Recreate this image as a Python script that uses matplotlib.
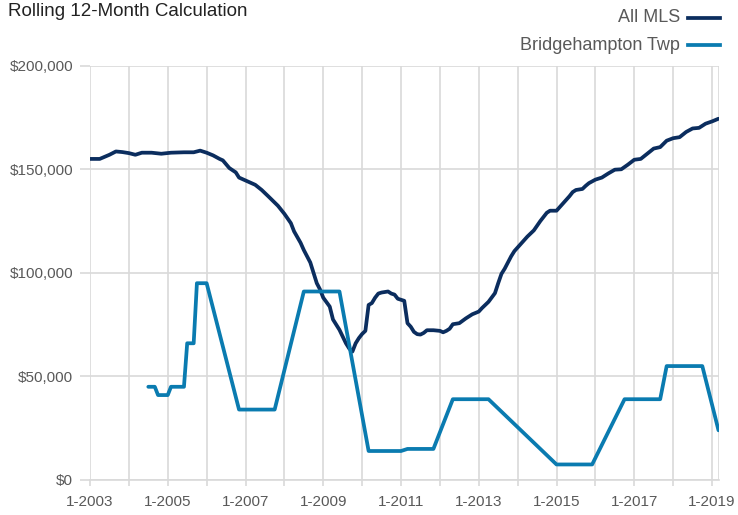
import matplotlib
matplotlib.use("Agg")
import matplotlib.pyplot as plt
from matplotlib.lines import Line2D
from matplotlib.ticker import FuncFormatter, MultipleLocator
from matplotlib import font_manager

# ---- data (month index from Jan 2003, value in $) ----
mls_month = [0, 3, 6, 8, 10, 12, 14, 16, 19, 22, 25, 29, 32, 34, 36, 38, 40, 41, 43, 45,
             46, 48, 51, 53, 55, 58, 60, 62, 63, 65, 66, 68, 69, 70, 71, 72, 74, 75, 77, 79,
             80, 81, 82, 83, 84, 85, 86, 87, 88, 89, 90, 92, 93, 94, 95, 97, 98, 99, 100, 101,
             102, 103, 104, 106, 108, 109, 110, 111, 112, 114, 116, 118, 120, 121, 123, 125, 126, 127, 128, 129,
             130, 131, 133, 135, 137, 139, 141, 142, 144, 146, 148, 149, 150, 152, 153, 154, 156, 158, 160, 162,
             164, 166, 168, 170, 172, 174, 176, 178, 180, 182, 184, 186, 188, 190, 192, 194]
mls_value = [155000, 155000, 157000, 158600, 158300, 157800, 157000, 158000, 158000, 157500,
             158000, 158200, 158200, 159000, 158000, 156700, 155000, 154300, 150600, 148500,
             146000, 144600, 142500, 140000, 137000, 132400, 128500, 124000, 120000, 114500,
             111000, 105000, 100000, 95000, 92000, 88000, 83700, 77500, 72500, 66000,
             63500, 62000, 66000, 68500, 70500, 72000, 84500, 85400, 88000, 90000,
             90500, 91000, 90000, 89500, 87500, 86500, 75700, 74000, 71500, 70400,
             70200, 71000, 72300, 72300, 72000, 71300, 72000, 73000, 75200, 75700,
             78000, 80000, 81300, 83000, 86000, 90200, 95000, 99500, 102000, 105000,
             108000, 110500, 114000, 117500, 120500, 125000, 129000, 130000, 130000, 133500,
             137000, 139000, 140000, 140500, 142000, 143300, 145000, 146000, 148000, 149800,
             150000, 152200, 154600, 155000, 157500, 160000, 160700, 163800, 165000, 165500,
             168000, 169700, 170000, 172000, 173100, 174400]

bh_month = [18, 20, 21, 24, 25, 29, 30, 32, 33, 36, 46, 57, 66, 77, 86, 96, 98, 106, 112, 123,
            144, 155, 165, 176, 178, 189, 194]
bh_value = [45000, 45000, 41000, 41000, 45000, 45000, 66000, 66000, 95000, 95000, 34000, 34000,
            91000, 91000, 14000, 14000, 15000, 15000, 39000, 39000, 7500, 7500, 39000, 39000,
            55000, 55000, 24000]

tick_months = [0, 24, 48, 72, 96, 120, 144, 168, 192]
tick_labels = ["1-2003", "1-2005", "1-2007", "1-2009", "1-2011", "1-2013", "1-2015", "1-2017", "1-2019"]

series_names = ["All MLS", "Bridgehampton Twp"]

# ---- style ----
available = {f.name for f in font_manager.fontManager.ttflist}
fam = "Liberation Sans Narrow" if "Liberation Sans Narrow" in available else "Liberation Sans"
plt.rcParams["font.family"] = [fam, "DejaVu Sans"]

C_MLS = "#0b2d5e"
C_BH = "#0a7bb0"
GRID = "#d9d9d9"
TXT = "#595959"

fig = plt.figure(figsize=(7.38, 5.15), dpi=100)
ax = fig.add_axes([90 / 738, 1 - 480 / 515, (718.5 - 90) / 738, (480 - 65.7) / 515])

ax.plot(mls_month, mls_value, color=C_MLS, lw=2.7, solid_joinstyle="round", solid_capstyle="round", zorder=3)
ax.plot(bh_month, bh_value, color=C_BH, lw=2.7, solid_joinstyle="round", solid_capstyle="round", zorder=3)

ax.set_xlim(0, 194)
ax.set_ylim(0, 200000)
ax.xaxis.set_major_locator(MultipleLocator(12))
ax.xaxis.set_major_formatter(FuncFormatter(
    lambda v, p: tick_labels[tick_months.index(int(round(v)))] if int(round(v)) in tick_months else ""))
ax.yaxis.set_major_locator(MultipleLocator(50000))
ax.yaxis.set_major_formatter(FuncFormatter(lambda v, p: "${:,.0f}".format(v)))

ax.grid(True, color=GRID, lw=1.2)
ax.set_axisbelow(True)
for s in ["top", "right", "left"]:
    ax.spines[s].set_visible(False)
ax.spines["bottom"].set_color(GRID)
ax.spines["bottom"].set_linewidth(1.2)
ax.axvline(194, color=GRID, lw=1.2, zorder=1)

ax.tick_params(axis="x", colors=GRID, length=4, width=1.2, labelcolor=TXT, labelsize=11, pad=7)
ax.tick_params(axis="y", colors=GRID, length=7, width=1.2, labelcolor=TXT, labelsize=11, pad=5)

fig.text(8 / 738, 1 - 12 / 515, "Rolling 12-Month Calculation", ha="left", va="center",
         fontsize=13.5, color="#222222")

for i, (name, col) in enumerate(zip(series_names, [C_MLS, C_BH])):
    yy = 1 - (18 + 27 * i) / 515
    fig.text(680 / 738, yy, name, ha="right", va="center", fontsize=13, color=TXT)
    fig.add_artist(Line2D([688 / 738, 720 / 738], [yy, yy], color=col, lw=2.7,
                          transform=fig.transFigure))

fig.savefig("out.png", dpi=100)
